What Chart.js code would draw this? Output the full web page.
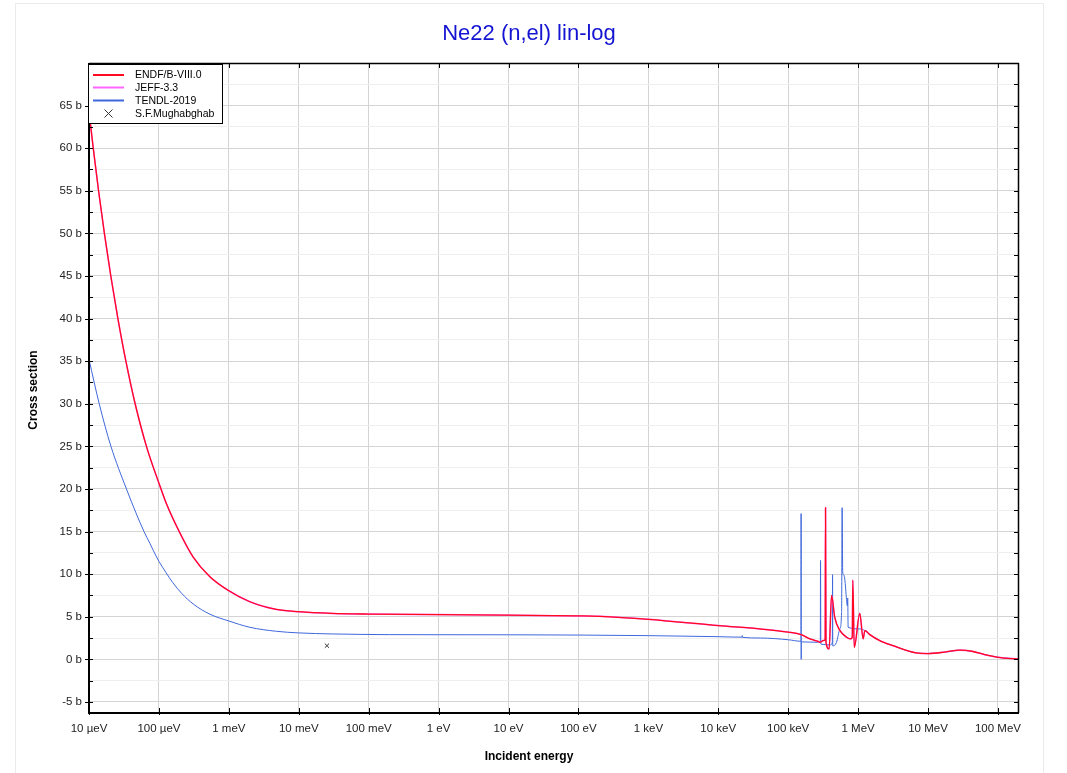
<!DOCTYPE html>
<html><head><meta charset="utf-8">
<script src="https://cdn.jsdelivr.net/npm/chart.js@4.4.1/dist/chart.umd.min.js"></script>
<style>html,body{margin:0;padding:0;background:#fff;overflow:hidden}</style>
</head><body>
<canvas id="c" width="1067" height="773"></canvas>
<script>
const titleText = 'Ne22 (n,el) lin-log';
const xTitleText = 'Incident energy';
const yTitleText = 'Cross section';
const seriesNames = ['ENDF/B-VIII.0', 'JEFF-3.3', 'TENDL-2019', 'S.F.Mughabghab'];

const xTickValues = [1e-5, 1e-4, 1e-3, 1e-2, 1e-1, 1, 10, 100, 1e3, 1e4, 1e5, 1e6, 1e7, 1e8];
const xTickLabels = ['10 µeV', '100 µeV', '1 meV', '10 meV', '100 meV', '1 eV', '10 eV', '100 eV', '1 keV', '10 keV', '100 keV', '1 MeV', '10 MeV', '100 MeV'];
const yTickValues = [-5, -2.5, 0, 2.5, 5, 7.5, 10, 12.5, 15, 17.5, 20, 22.5, 25, 27.5, 30, 32.5, 35, 37.5, 40, 42.5, 45, 47.5, 50, 52.5, 55, 57.5, 60, 62.5, 65, 67.5, 70];
const yTickLabels = ['-5 b', '', '0 b', '', '5 b', '', '10 b', '', '15 b', '', '20 b', '', '25 b', '', '30 b', '', '35 b', '', '40 b', '', '45 b', '', '50 b', '', '55 b', '', '60 b', '', '65 b', '', ''];

// ENDF/B-VIII.0 (energy in eV, cross section in b)
const endfE = [1e-5, 1.15e-5, 1.37e-5, 1.66e-5, 2.05e-5, 2.59e-5, 3.37e-5, 4.57e-5, 6.63e-5,
  1.05e-4, 1.29e-4, 1.95e-4, 3.09e-4, 5.36e-4, 1e-3, 2e-3, 4.8e-3, 1e-2, 3e-2, 0.1, 1, 10, 100, 200,
  1e3, 1e4, 3.94e4, 1e5, 1.53e5, 2.04e5, 2.68e5, 2.84e5, 3.16e5, 3.38e5, 3.42e5, 3.47e5, 3.85e5, 4.17e5,
  4.64e5, 5.48e5, 6.83e5, 7.78e5, 8.25e5, 8.4e5, 8.8e5, 1.057e6, 1.18e6, 1.25e6, 1.47e6, 2.04e6, 3.16e6,
  6.8e6, 1e7, 1.73e7, 2.84e7, 4.4e7, 6.46e7, 1e8, 2e8];
const endfXS = [64.3, 60.0, 55.0, 50.0, 45.0, 40.0, 35.0, 30.0, 25.0,
  20.2, 18.2, 15.0, 12.0, 9.7, 8.05, 6.76, 5.86, 5.59, 5.39, 5.31, 5.25, 5.18, 5.1, 5.05,
  4.7, 3.96, 3.57, 3.2, 2.9, 2.4, 2.1, 2.0, 2.2, 2.3, 17.8, 2.0, 1.22, 7.5,
  4.9, 3.4, 2.6, 2.4, 2.6, 9.3, 1.4, 5.4, 2.4, 3.37, 2.9, 2.2, 1.6,
  0.75, 0.68, 0.85, 1.08, 0.92, 0.55, 0.24, 0.03];

// JEFF-3.3 (coincides with ENDF/B-VIII.0 in the picture)
const jeffE = endfE.slice();
const jeffXS = endfXS.slice();

// TENDL-2019
const tendlE = [1e-5, 1.4e-5, 2.06e-5, 3.43e-5, 4.69e-5, 6.11e-5, 7.44e-5, 8.29e-5, 1e-4, 1.26e-4, 1.58e-4,
  2.11e-4, 3.09e-4, 5.36e-4, 1e-3, 2e-3, 4.8e-3, 1e-2, 3e-2, 0.2, 1, 10, 100, 1e3, 1e4, 2.18e4, 2.2e4, 2.22e4, 4e4, 1e5,
  1.525e5, 1.53e5, 1.535e5, 1.54e5, 2.68e5, 2.88e5, 2.9e5, 2.93e5, 3.16e5, 4.0e5, 4.28e5, 4.31e5, 4.34e5,
  4.91e5, 5.48e5, 5.8e5, 5.91e5, 6.02e5, 6.1e5, 6.45e5, 6.83e5, 7.0e5, 7.1e5, 7.2e5, 1.057e6, 1.25e6,
  1.47e6, 2.04e6, 3.16e6, 6.8e6, 1e7, 1.73e7, 2.84e7, 4.4e7, 6.46e7, 1e8, 2e8];
const tendlXS = [35.2, 30.0, 25.0, 20.0, 17.2, 15.0, 13.6, 12.8, 11.5, 10.2, 9.0,
  7.75, 6.5, 5.3, 4.5, 3.76, 3.29, 3.1, 2.98, 2.9, 2.89, 2.88, 2.85, 2.78, 2.66, 2.6, 2.78, 2.58, 2.5, 2.3,
  2.12, 17.1, 0.0, 2.05, 2.0, 2.2, 11.6, 1.8, 1.75, 1.69, 2.0, 9.94, 1.57,
  2.0, 3.57, 5.5, 17.8, 10.3, 10.0, 9.4, 7.0, 6.3, 7.2, 3.76, 3.57, 3.37,
  2.9, 2.2, 1.6, 0.75, 0.68, 0.85, 1.08, 0.92, 0.55, 0.24, 0.03];

// S.F.Mughabghab thermal value
const mughE = [0.0253];
const mughXS = [1.6];

const colors = ['#ff0a1e', '#ff66ff', '#3f68dc', '#333333'];
const FONT = '"Liberation Sans", Arial, sans-serif';

function pts(E, S) { return E.map((e, i) => ({ x: e, y: S[i] })); }

const deco = {
  id: 'deco',
  beforeDraw(chart) {
    const c = chart.ctx;
    c.save();
    c.fillStyle = '#fff';
    c.fillRect(0, 0, chart.width, chart.height);
    c.strokeStyle = '#ebebeb';
    c.lineWidth = 1;
    c.strokeRect(15.5, 3.5, 1028, 800);
    c.restore();
  },
  afterDraw(chart) {
    const c = chart.ctx;
    const a = chart.chartArea;
    const xs = chart.scales.x, ys = chart.scales.y;
    c.save();
    c.strokeStyle = '#000';
    c.lineWidth = 1.5;
    c.beginPath(); c.moveTo(a.left, a.top + 0.5); c.lineTo(a.right, a.top + 0.5); c.stroke();
    c.beginPath(); c.moveTo(a.right - 0.5, a.top); c.lineTo(a.right - 0.5, a.bottom); c.stroke();
    c.lineWidth = 2;
    c.beginPath(); c.moveTo(a.left, a.top); c.lineTo(a.left, a.bottom + 1); c.stroke();
    c.beginPath(); c.moveTo(a.left - 1, a.bottom); c.lineTo(a.right, a.bottom); c.stroke();
    c.lineWidth = 1;
    yTickValues.forEach((v, i) => {
      const py = Math.round(ys.getPixelForValue(v)) + 0.5;
      if (py < a.top + 2) return;
      const major = yTickLabels[i] !== '';
      c.beginPath();
      c.moveTo(major ? a.left - 4 : a.left, py); c.lineTo(a.left + 4, py);
      c.moveTo(a.right - 5, py); c.lineTo(a.right, py);
      c.stroke();
    });
    xTickValues.forEach(v => {
      const px = Math.round(xs.getPixelForValue(v)) + 0.5;
      c.beginPath();
      c.moveTo(px, a.bottom - 5); c.lineTo(px, a.bottom + 2);
      c.moveTo(px, a.top); c.lineTo(px, a.top + 5);
      c.stroke();
    });
    c.fillStyle = '#1414d2';
    c.font = '22px ' + FONT;
    c.textAlign = 'center'; c.textBaseline = 'middle';
    c.fillText(titleText, 529, 34);
    c.fillStyle = '#000';
    c.font = 'bold 12px ' + FONT;
    c.fillText(xTitleText, 529, 757);
    c.save();
    c.translate(34, 390); c.rotate(-Math.PI / 2);
    c.fillText(yTitleText, 0, 0);
    c.restore();
    const lx = 88.5, ly = 64.5, lw = 134, lh = 59;
    c.fillStyle = '#fff';
    c.fillRect(lx, ly, lw, lh);
    c.strokeStyle = '#000'; c.lineWidth = 1;
    c.strokeRect(lx, ly, lw, lh);
    const rows = [75, 87.5, 100.5, 113.5];
    c.font = '10.5px ' + FONT;
    c.textAlign = 'left'; c.textBaseline = 'middle';
    seriesNames.forEach((n, i) => {
      const y = rows[i];
      if (i < 3) {
        c.strokeStyle = colors[i]; c.lineWidth = 2;
        c.beginPath(); c.moveTo(93, y); c.lineTo(124, y); c.stroke();
      } else {
        c.strokeStyle = '#333'; c.lineWidth = 1;
        c.beginPath();
        c.moveTo(104.5, y - 4); c.lineTo(112.5, y + 4);
        c.moveTo(112.5, y - 4); c.lineTo(104.5, y + 4);
        c.stroke();
      }
      c.fillStyle = '#000';
      c.fillText(n, 135, y + 0.5);
    });
    c.restore();
  }
};

const lineOpts = { showLine: true, pointRadius: 0, cubicInterpolationMode: 'monotone' };

new Chart(document.getElementById('c'), {
  type: 'scatter',
  data: {
    datasets: [
      Object.assign({ label: seriesNames[0], data: pts(endfE, endfXS), borderColor: colors[0], borderWidth: 1.3 }, lineOpts),
      Object.assign({ label: seriesNames[1], data: pts(jeffE, jeffXS), borderColor: colors[1], borderWidth: 1.5 }, lineOpts),
      Object.assign({ label: seriesNames[2], data: pts(tendlE, tendlXS), borderColor: colors[2], borderWidth: 1 }, lineOpts),
      { label: seriesNames[3], data: pts(mughE, mughXS), showLine: false, pointStyle: 'crossRot', pointRadius: 3, borderColor: colors[3], backgroundColor: colors[3], borderWidth: 1 }
    ]
  },
  options: {
    responsive: false,
    animation: false,
    devicePixelRatio: 1,
    layout: { padding: { left: 0, top: 63, right: 48, bottom: 0 } },
    plugins: { legend: { display: false }, title: { display: false }, tooltip: { enabled: false } },
    scales: {
      x: {
        type: 'logarithmic', min: 1e-5, max: 2e8,
        afterBuildTicks: s => { s.ticks = xTickValues.map(v => ({ value: v })); },
        afterFit: s => { s.height = 60; },
        ticks: {
          autoSkip: false, maxRotation: 0, padding: 9, color: '#222',
          font: { family: FONT, size: 11.5 },
          callback: v => { const i = xTickValues.findIndex(t => Math.abs(Math.log10(t) - Math.log10(v)) < 1e-6); return i >= 0 ? xTickLabels[i] : ''; }
        },
        grid: { color: '#d4d4d4', lineWidth: 1, drawTicks: false },
        border: { display: false }
      },
      y: {
        type: 'linear', min: -6.3, max: 70,
        afterBuildTicks: s => { s.ticks = yTickValues.map(v => ({ value: v })); },
        afterFit: s => { s.width = 89; },
        ticks: {
          autoSkip: false, padding: 7, color: '#222',
          font: { family: FONT, size: 11.5 },
          callback: v => { const i = yTickValues.indexOf(v); return i >= 0 ? yTickLabels[i] : ''; }
        },
        grid: {
          drawTicks: false, lineWidth: 1,
          color: ctx => { const i = yTickValues.indexOf(ctx.tick ? ctx.tick.value : NaN); return (i >= 0 && yTickLabels[i] !== '') ? '#d4d4d4' : '#efefef'; }
        },
        border: { display: false }
      }
    }
  },
  plugins: [deco]
});
</script>
</body></html>
